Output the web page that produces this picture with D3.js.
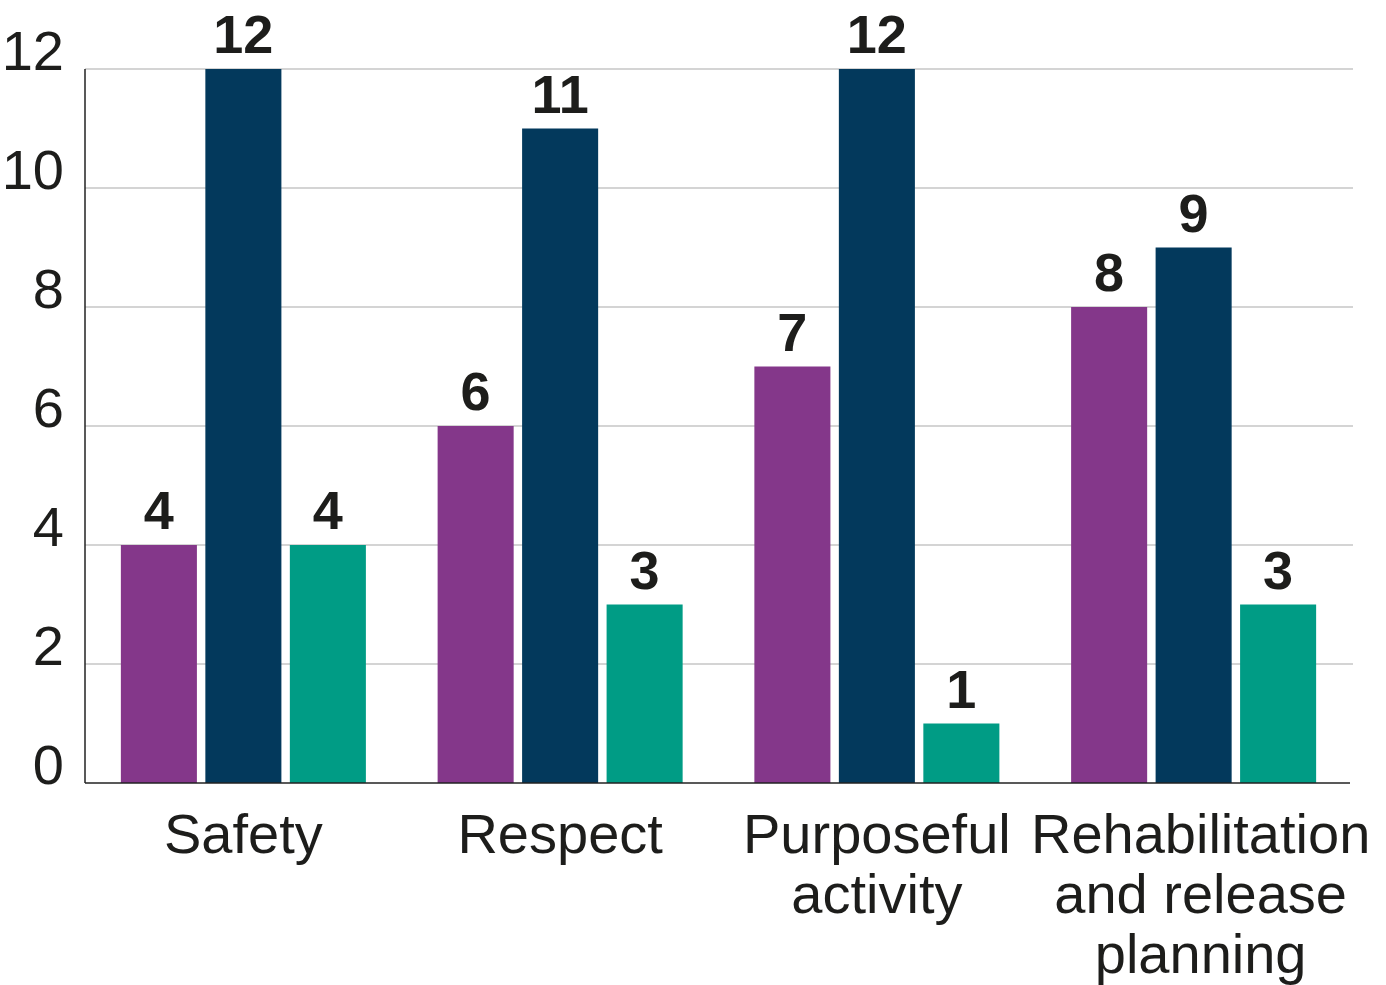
<!DOCTYPE html>
<html>
<head>
<meta charset="utf-8">
<script src="https://cdn.jsdelivr.net/npm/d3@7"></script>
<style>
  body { margin: 0; background: #fff; }
  text { font-family: "Liberation Sans", Arial, sans-serif; fill: #1d1d1b; }
</style>
</head>
<body>
<div id="chart"></div>
<script>
// Data
var categories = ["Safety", "Respect", "Purposeful activity", "Rehabilitation and release planning"];
var categoryLines = [["Safety"], ["Respect"], ["Purposeful", "activity"], ["Rehabilitation", "and release", "planning"]];
var seriesNames = ["a", "b", "c"];
var seriesA = [4, 6, 7, 8];
var seriesB = [12, 11, 12, 9];
var seriesC = [4, 3, 1, 3];
var yTicks = [0, 2, 4, 6, 8, 10, 12];
var colors = ["#84378a", "#03395c", "#009c85"];

var w = 1386, h = 985;
var mLeft = 85, mRight = 1352, mTop = 69, mBottom = 783;

var svg = d3.select("#chart").append("svg")
    .attr("width", w)
    .attr("height", h);

var x = d3.scaleBand().domain(categories).range([mLeft, mRight]).padding(0);
var xs = d3.scaleBand().domain(seriesNames).range([0, x.bandwidth()])
    .paddingInner(0.1).paddingOuter(0.4245);
var y = d3.scaleLinear().domain([0, 12]).range([mBottom, mTop]);

// gridlines
svg.append("g").selectAll("line")
    .data(yTicks.filter(function (d) { return d > 0; }))
    .enter().append("line")
    .attr("x1", mLeft).attr("x2", mRight + 1)
    .attr("y1", function (d) { return y(d); })
    .attr("y2", function (d) { return y(d); })
    .attr("stroke", "#c6c6c6")
    .attr("stroke-width", 1.5);

// tick labels (sit just above their gridline)
svg.append("g").selectAll("text")
    .data(yTicks)
    .enter().append("text")
    .attr("x", 64)
    .attr("y", function (d) { return y(d) + 1; })
    .attr("text-anchor", "end")
    .attr("font-size", 56)
    .text(function (d) { return d; });

// bars
var rows = categories.map(function (c, i) {
    return { cat: c, vals: [seriesA[i], seriesB[i], seriesC[i]] };
});

var groups = svg.append("g").selectAll("g")
    .data(rows)
    .enter().append("g")
    .attr("transform", function (d) { return "translate(" + x(d.cat) + ",0)"; });

groups.selectAll("rect")
    .data(function (d) { return d.vals.map(function (v, j) { return { s: seriesNames[j], v: v, j: j }; }); })
    .enter().append("rect")
    .attr("x", function (d) { return xs(d.s); })
    .attr("y", function (d) { return y(d.v); })
    .attr("width", xs.bandwidth())
    .attr("height", function (d) { return y(0) - y(d.v); })
    .attr("fill", function (d) { return colors[d.j]; });

groups.selectAll("text.val")
    .data(function (d) { return d.vals.map(function (v, j) { return { s: seriesNames[j], v: v }; }); })
    .enter().append("text")
    .attr("class", "val")
    .attr("x", function (d) { return xs(d.s) + xs.bandwidth() / 2; })
    .attr("y", function (d) { return y(d.v) - 16; })
    .attr("text-anchor", "middle")
    .attr("font-size", 54)
    .attr("font-weight", "bold")
    .text(function (d) { return d.v; });

// axis lines
svg.append("line")
    .attr("x1", mLeft).attr("x2", mLeft)
    .attr("y1", mTop).attr("y2", mBottom)
    .attr("stroke", "#222").attr("stroke-width", 1.5);
svg.append("line")
    .attr("x1", mLeft).attr("x2", mRight - 2)
    .attr("y1", mBottom).attr("y2", mBottom)
    .attr("stroke", "#222").attr("stroke-width", 1.5);

// category labels
var labels = svg.append("g").selectAll("text")
    .data(categories)
    .enter().append("text")
    .attr("text-anchor", "middle")
    .attr("font-size", 56)
    .attr("x", function (d, i) { return x(d) + x.bandwidth() / 2 + (i === 3 ? 7 : 0); })
    .attr("y", 853);

labels.selectAll("tspan")
    .data(function (d, i) { return categoryLines[i]; })
    .enter().append("tspan")
    .attr("x", function () { return this.parentNode.getAttribute("x"); })
    .attr("dy", function (d, i) { return i === 0 ? 0 : 60; })
    .text(function (d) { return d; });
</script>
</body>
</html>
